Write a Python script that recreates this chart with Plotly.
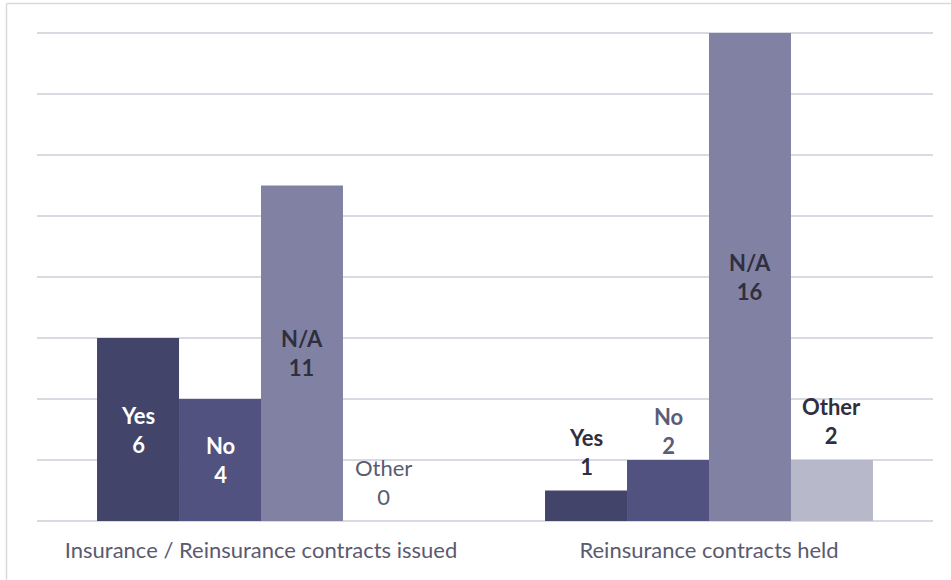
import plotly.graph_objects as go

categories = ["Insurance / Reinsurance contracts issued", "Reinsurance contracts held"]
series_names = ["Yes", "No", "N/A", "Other"]
yes_vals = [6, 1]
no_vals = [4, 2]
na_vals = [11, 16]
other_vals = [0, 2]
values = [yes_vals, no_vals, na_vals, other_vals]

# style
colors = ["#424469", "#525281", "#8181a3", "#b7b8c9"]
W, H = 951, 580
ML, MR, MT, MB = 37, 18, 30, 58.5
YMAX = 16.1
BARGAP = 0.268
FONT = "Lato"
DARK = "#2f2f3e"
GRID = "#d9d9e1"

# label style per (series, category): (placement, color, bold, yshift)
label_style = {
    (0, 0): ("in", "white", True, 0),
    (1, 0): ("in", "white", True, 0),
    (2, 0): ("in", DARK, True, 0),
    (3, 0): ("out", "#5b5b70", False, 39),
    (0, 1): ("out", DARK, True, 39),
    (1, 1): ("out", "#5c5c78", True, 29),
    (2, 1): ("in", DARK, True, 0),
    (3, 1): ("out", DARK, True, 39),
}

xpos = list(range(len(categories)))
fig = go.Figure()
for si, (name, vals) in enumerate(zip(series_names, values)):
    fig.add_trace(go.Bar(x=xpos, y=vals, name=name, marker=dict(color=colors[si], line=dict(width=0)),
                         hoverinfo="skip"))

bw = (1 - BARGAP) / len(series_names)
annotations = []
for si, (name, vals) in enumerate(zip(series_names, values)):
    for ci, v in enumerate(vals):
        place, col, bold, ysh = label_style[(si, ci)]
        txt = f"{name}<br>{v}"
        if bold:
            txt = f"<b>{name}</b><br><b>{v}</b>"
        x = ci + (si - (len(series_names) - 1) / 2) * bw
        y = v / 2 if place == "in" else v
        annotations.append(dict(x=x, y=y, xref="x", yref="y", text=txt, showarrow=False,
                                yanchor="middle", xanchor="center", yshift=ysh,
                                font=dict(family=FONT, size=22, color=col)))

pw = W - ML - MR
ph = H - MT - MB
def px(xp):
    return (xp - ML) / pw
def py(yp):
    return (H - MB - yp) / ph

shapes = [
    dict(type="line", xref="paper", yref="paper", x0=px(6.5), x1=px(6.5), y0=py(3.5), y1=py(H), line=dict(color="#d9d9df", width=1.5)),
    dict(type="line", xref="paper", yref="paper", x0=px(6.5), x1=px(W), y0=py(3.5), y1=py(3.5), line=dict(color="#d9d9df", width=1.5)),
]

fig.update_layout(
    width=W, height=H,
    margin=dict(l=ML, r=MR, t=MT, b=MB, autoexpand=False),
    barmode="group", bargap=BARGAP, bargroupgap=0,
    plot_bgcolor="white", paper_bgcolor="white",
    showlegend=False,
    annotations=annotations,
    shapes=shapes,
    xaxis=dict(range=[-0.5, 1.5], tickvals=xpos, ticktext=categories, showgrid=False, zeroline=False,
               ticks="outside", ticklen=10, tickcolor="rgba(0,0,0,0)",
               tickfont=dict(family=FONT, size=22, color="#5a5a70"), fixedrange=True),
    yaxis=dict(range=[0, YMAX], dtick=2, showgrid=True, gridcolor=GRID, gridwidth=1.5,
               zeroline=True, zerolinecolor=GRID, zerolinewidth=1.5, showticklabels=False, fixedrange=True),
)

fig.write_html("out.html", config={"displayModeBar": False},
               post_script="document.body.style.margin='0';document.body.style.overflow='hidden';")
